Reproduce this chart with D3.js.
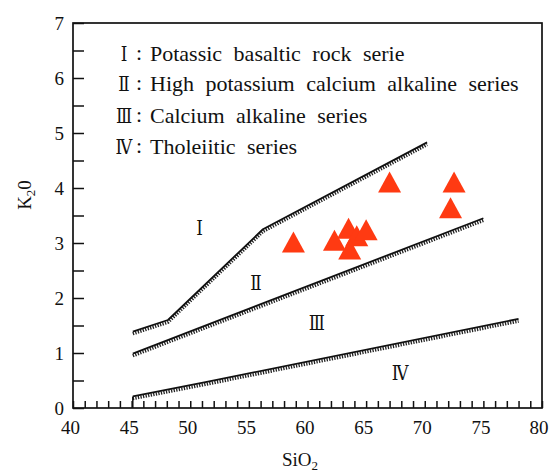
<!DOCTYPE html>
<html>
<head>
<meta charset="utf-8">
<script src="https://cdn.jsdelivr.net/npm/d3@7"></script>
<style>
  html, body { margin: 0; padding: 0; background: #fff; }
  svg { display: block; }
</style>
</head>
<body>
<svg id="chart" width="549" height="473"></svg>
<script>
// Sample compositions (wt%)
const sampleSiO2 = [58.8, 62.3, 63.5, 64.2, 65.0, 63.6, 67.0, 72.5, 72.2];
const sampleK2O  = [3.02, 3.05, 3.27, 3.13, 3.24, 2.89, 4.11, 4.11, 3.64];

// Series boundary lines as [SiO2, K2O] vertices
const boundaryShoshonite = [[45.1, 1.39], [48.1, 1.60], [56.2, 3.25], [70.2, 4.83]];
const boundaryHighK      = [[45.1, 0.99], [75.0, 3.45]];
const boundaryTholeiite  = [[45.1, 0.21], [51.3, 0.47], [78.0, 1.62]];

// Region numerals and their anchor positions [SiO2, K2O]
const regionNames = ["Ⅰ", "Ⅱ", "Ⅲ", "Ⅳ"];
const regionSiO2  = [50.8, 55.6, 60.8, 67.9];
const regionK2O   = [3.29, 2.29, 1.55, 0.65];

// Legend entries
const legendNumerals = ["Ⅰ", "Ⅱ", "Ⅲ", "Ⅳ"];
const legendLabels = [
  "Potassic basaltic rock serie",
  "High potassium calcium alkaline series",
  "Calcium alkaline series",
  "Tholeiitic series"
];

// Axis ticks
const xMajorTicks = [40, 45, 50, 55, 60, 65, 70, 75, 80];
const yMajorTicks = [0, 1, 2, 3, 4, 5, 6, 7];

const SERIF = "Liberation Serif";
const NUMERAL_FONT = "DejaVu Serif";

const svg = d3.select("#chart");
const plotLeft = 73, plotRight = 542, plotTop = 23, plotBottom = 408;

const x = d3.scaleLinear().domain([40, 80]).range([plotLeft, plotRight]);
const y = d3.scaleLinear().domain([0, 7]).range([plotBottom, plotTop]);

// Bottom axis: inward ticks every 1 unit, labels every 5
const xAxis = d3.axisBottom(x)
  .tickValues(d3.range(40, 80.001, 1))
  .tickSizeInner(-7).tickSizeOuter(0).tickPadding(13)
  .tickFormat(d => xMajorTicks.includes(d) ? d : "");
const gx = svg.append("g").attr("transform", `translate(0,${plotBottom})`).call(xAxis);
gx.select(".domain").remove();
gx.selectAll(".tick line").attr("stroke", "#111").attr("stroke-width", 1.5);
gx.selectAll(".tick text")
  .attr("font-family", SERIF).attr("font-size", 19).attr("fill", "#111").attr("x", -3)
  .filter(d => d === 80).attr("text-anchor", "end").attr("x", 548 - plotRight);

// Left axis: inward ticks every 0.5, labels on integers
const yAxis = d3.axisLeft(y)
  .tickValues(d3.range(0, 7.001, 0.5))
  .tickSizeInner(-11).tickSizeOuter(0).tickPadding(9)
  .tickFormat(d => yMajorTicks.includes(d) ? d : "");
const gy = svg.append("g").attr("transform", `translate(${plotLeft},0)`).call(yAxis);
gy.select(".domain").remove();
gy.selectAll(".tick line").attr("stroke", "#111").attr("stroke-width", 1.5);
gy.selectAll(".tick text").attr("font-family", SERIF).attr("font-size", 19).attr("fill", "#111");

// Plot frame
svg.append("rect")
  .attr("x", plotLeft).attr("y", plotTop)
  .attr("width", plotRight - plotLeft).attr("height", plotBottom - plotTop)
  .attr("fill", "none").attr("stroke", "#111").attr("stroke-width", 1.7);

// Boundary lines: solid line with a toothed edge underneath
const line = d3.line().x(d => x(d[0])).y(d => y(d[1]));
[boundaryShoshonite, boundaryHighK, boundaryTholeiite].forEach(pts => {
  svg.append("path").attr("d", line(pts))
    .attr("transform", "translate(0,2.2)")
    .attr("fill", "none").attr("stroke", "#222")
    .attr("stroke-width", 3.4).attr("stroke-dasharray", "1.3 1.3");
  svg.append("path").attr("d", line(pts))
    .attr("fill", "none").attr("stroke", "#111")
    .attr("stroke-width", 1.8).attr("stroke-linejoin", "round");
});
// short drop from the tholeiite line start to the axis
svg.append("line")
  .attr("x1", x(boundaryTholeiite[0][0])).attr("x2", x(boundaryTholeiite[0][0]))
  .attr("y1", y(boundaryTholeiite[0][1])).attr("y2", y(0))
  .attr("stroke", "#111").attr("stroke-width", 1.5);

// Region numerals (slightly condensed)
svg.append("g").selectAll("text").data(regionNames).join("text")
  .attr("transform", (d, i) => `translate(${x(regionSiO2[i])},${y(regionK2O[i])}) scale(0.8,1)`)
  .attr("text-anchor", "middle").attr("dominant-baseline", "central")
  .attr("font-family", NUMERAL_FONT).attr("font-size", 21).attr("fill", "#111")
  .text(d => d);

// Sample triangles
const triW = 23, triH = 21;
svg.append("g").selectAll("path")
  .data(sampleSiO2.map((s, i) => [s, sampleK2O[i]]))
  .join("path")
  .attr("d", `M0,${-triH / 2}L${triW / 2},${triH / 2}L${-triW / 2},${triH / 2}Z`)
  .attr("transform", d => `translate(${x(d[0])},${y(d[1])})`)
  .attr("fill", "#ff3a12");

// Legend
const legend = svg.append("g");
const legendBaselines = [61, 91, 123, 154];
legendLabels.forEach((label, i) => {
  legend.append("text")
    .attr("transform", `translate(124,${legendBaselines[i]}) scale(0.8,1)`)
    .attr("text-anchor", "middle")
    .attr("font-family", NUMERAL_FONT).attr("font-size", 21).attr("fill", "#111")
    .text(legendNumerals[i]);
  legend.append("text").attr("x", 139).attr("y", legendBaselines[i] - 1)
    .attr("text-anchor", "middle")
    .attr("font-family", SERIF).attr("font-size", 22).attr("fill", "#111")
    .text(":");
  legend.append("text").attr("x", 150).attr("y", legendBaselines[i])
    .attr("font-family", SERIF).attr("font-size", 22).attr("fill", "#111")
    .attr("word-spacing", 6)
    .text(label);
});

// Axis titles
const xt = svg.append("text").attr("x", 300).attr("y", 466)
  .attr("text-anchor", "middle").attr("font-family", SERIF).attr("font-size", 19).attr("fill", "#111");
xt.append("tspan").text("SiO");
xt.append("tspan").attr("dy", 4).attr("font-size", 13).text("2");

const yt = svg.append("text")
  .attr("transform", "translate(31,195) rotate(-90)")
  .attr("text-anchor", "middle").attr("font-family", SERIF).attr("font-size", 19).attr("fill", "#111");
yt.append("tspan").text("K");
yt.append("tspan").attr("dy", 4).attr("font-size", 13).text("2");
yt.append("tspan").attr("dy", -4).text("0");
</script>
</body>
</html>
